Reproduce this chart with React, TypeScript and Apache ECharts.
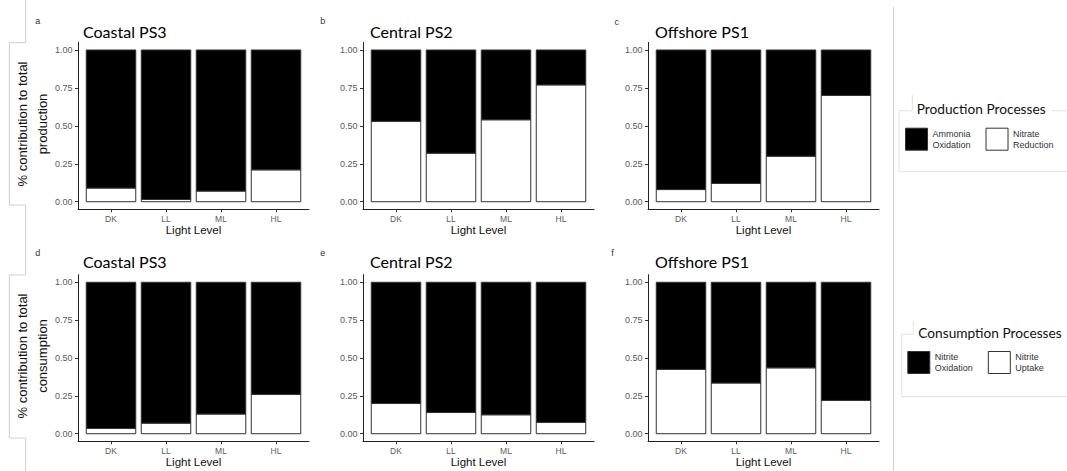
import React, { useEffect, useRef } from "react";
import * as echarts from "echarts";

// ---- data ----
const lightLevels = ["DK", "LL", "ML", "HL"];
const yTicks = [0, 0.25, 0.5, 0.75, 1];
const panelTitles = ["Coastal PS3", "Central PS2", "Offshore PS1", "Coastal PS3", "Central PS2", "Offshore PS1"];
const panelLetters = ["a", "b", "c", "d", "e", "f"];
const productionNames = ["Ammonia Oxidation", "Nitrate Reduction"];
const consumptionNames = ["Nitrite Oxidation", "Nitrite Uptake"];

// production: white = Nitrate Reduction, black = Ammonia Oxidation
const coastalNitrateReduction = [0.09, 0.015, 0.07, 0.21];
const coastalAmmoniaOxidation = [0.91, 0.985, 0.93, 0.79];
const centralNitrateReduction = [0.53, 0.32, 0.54, 0.77];
const centralAmmoniaOxidation = [0.47, 0.68, 0.46, 0.23];
const offshoreNitrateReduction = [0.08, 0.12, 0.3, 0.7];
const offshoreAmmoniaOxidation = [0.92, 0.88, 0.7, 0.3];
// consumption: white = Nitrite Uptake, black = Nitrite Oxidation
const coastalNitriteUptake = [0.035, 0.07, 0.13, 0.26];
const coastalNitriteOxidation = [0.965, 0.93, 0.87, 0.74];
const centralNitriteUptake = [0.2, 0.14, 0.125, 0.075];
const centralNitriteOxidation = [0.8, 0.86, 0.875, 0.925];
const offshoreNitriteUptake = [0.425, 0.335, 0.435, 0.22];
const offshoreNitriteOxidation = [0.575, 0.665, 0.565, 0.78];

const whiteSeries = [
  coastalNitrateReduction, centralNitrateReduction, offshoreNitrateReduction,
  coastalNitriteUptake, centralNitriteUptake, offshoreNitriteUptake,
];
const blackSeries = [
  coastalAmmoniaOxidation, centralAmmoniaOxidation, offshoreAmmoniaOxidation,
  coastalNitriteOxidation, centralNitriteOxidation, offshoreNitriteOxidation,
];

const SANS = "Liberation Sans";
const TITLE_FONT = "Lato";
const BAR_WIDTH = 0.9;

function stackedRect(fill: string) {
  return (params: any, api: any) => {
    const x = api.value(0);
    const lo = api.value(1);
    const hi = api.value(2);
    const p0 = api.coord([x - BAR_WIDTH / 2, hi]);
    const p1 = api.coord([x + BAR_WIDTH / 2, lo]);
    return {
      type: "rect",
      shape: { x: p0[0], y: p0[1], width: p1[0] - p0[0], height: p1[1] - p0[1] },
      style: { fill, stroke: "#333", lineWidth: 1 },
    };
  };
}

export default function App() {
  const ref = useRef<HTMLDivElement>(null);
  useEffect(() => {
    if (!ref.current) return;
    const chart = echarts.init(ref.current, null, { renderer: "svg" });

    const lefts = [78, 363, 648];
    const tops = [42.4, 274.7];
    const heights = [166.9, 166.6];
    const grids: any[] = [];
    const xAxes: any[] = [];
    const yAxes: any[] = [];
    const series: any[] = [];
    const graphics: any[] = [];

    const titleY = [31, 261.5];
    const letterPos = [
      [37.7, 20.7], [322.7, 20.7], [616.7, 21.5],
      [37.7, 253], [322.7, 253], [612.5, 253],
    ];
    const titleLeft = [83, 370, 655];

    for (let p = 0; p < 6; p++) {
      const row = p < 3 ? 0 : 1;
      const col = p % 3;
      grids.push({ left: lefts[col], top: tops[row], width: 231, height: heights[row], containLabel: false });
      xAxes.push({
        gridIndex: p,
        type: "value",
        min: 0.4,
        max: 4.6,
        axisLine: { show: true, onZero: false, lineStyle: { color: "#222", width: 1 } },
        axisTick: { show: true, length: 3, customValues: [1, 2, 3, 4], lineStyle: { color: "#333" } },
        axisLabel: {
          customValues: [1, 2, 3, 4],
          formatter: (v: number) => lightLevels[Math.round(v) - 1] ?? "",
          fontSize: 8.5,
          color: "#5a5a5a",
          margin: 5,
          fontFamily: SANS,
        },
        splitLine: { show: false },
        name: "Light Level",
        nameLocation: "middle",
        nameGap: 15,
        nameTextStyle: { fontSize: 11.5, color: "#111", fontFamily: SANS },
      });
      yAxes.push({
        gridIndex: p,
        type: "value",
        min: -0.05,
        max: 1.05,
        axisLine: { show: true, onZero: false, lineStyle: { color: "#222", width: 1 } },
        axisTick: { show: true, length: 3, customValues: yTicks, lineStyle: { color: "#333" } },
        axisLabel: {
          customValues: yTicks,
          formatter: (v: number) => v.toFixed(2),
          fontSize: 9,
          color: "#5a5a5a",
          margin: 5.5,
          fontFamily: SANS,
        },
        splitLine: { show: false },
      });
      const names = row === 0 ? productionNames : consumptionNames;
      const w = whiteSeries[p];
      const b = blackSeries[p];
      series.push({
        type: "custom",
        name: names[1],
        xAxisIndex: p,
        yAxisIndex: p,
        encode: { x: 0, y: [1, 2] },
        data: w.map((v, i) => [i + 1, 0, v]),
        itemStyle: { color: "#fff", borderColor: "#333", borderWidth: 1 },
        renderItem: stackedRect("#fff"),
      });
      series.push({
        type: "custom",
        name: names[0],
        xAxisIndex: p,
        yAxisIndex: p,
        encode: { x: 0, y: [1, 2] },
        data: b.map((v, i) => [i + 1, w[i], w[i] + v]),
        itemStyle: { color: "#000", borderColor: "#333", borderWidth: 1 },
        renderItem: stackedRect("#000"),
      });
      graphics.push({
        type: "text",
        x: titleLeft[col],
        y: titleY[row],
        style: { text: panelTitles[p], fontSize: 16, fontFamily: TITLE_FONT, fill: "#000", align: "left", verticalAlign: "middle" },
      });
      graphics.push({
        type: "text",
        x: letterPos[p][0],
        y: letterPos[p][1],
        style: { text: panelLetters[p], fontSize: 9, fontFamily: SANS, fill: "#333", align: "center", verticalAlign: "middle" },
      });
    }

    // y-axis titles
    graphics.push({
      type: "text", x: 32, y: 124, rotation: Math.PI / 2,
      style: { text: "% contribution to total\nproduction", fontSize: 13, lineHeight: 20, fontFamily: SANS, fill: "#111", align: "center", verticalAlign: "middle" },
    });
    graphics.push({
      type: "text", x: 32, y: 356, rotation: Math.PI / 2,
      style: { text: "% contribution to total\nconsumption", fontSize: 13, lineHeight: 20, fontFamily: SANS, fill: "#111", align: "center", verticalAlign: "middle" },
    });

    // frame lines
    const frameColor = "#cfcfcf";
    graphics.push({
      type: "polyline",
      shape: { points: [[25.7, 0], [25.7, 42.7], [9.3, 42.7], [9.3, 205], [25.7, 205], [25.7, 275], [9.3, 275], [9.3, 438], [25.7, 438], [25.7, 471]] },
      style: { stroke: frameColor, lineWidth: 1, fill: null },
    });
    graphics.push({ type: "line", shape: { x1: 893.5, y1: 7, x2: 893.5, y2: 471 }, style: { stroke: frameColor, lineWidth: 1 } });

    const boxColor = "#e2e2e2";
    graphics.push({ type: "polyline", shape: { points: [[912.3, 95], [912.3, 110.7], [899, 110.7], [899, 171.7], [1067, 171.7]] }, style: { stroke: boxColor, lineWidth: 1, fill: null } });
    graphics.push({ type: "line", shape: { x1: 1052, y1: 110.7, x2: 1067, y2: 110.7 }, style: { stroke: boxColor, lineWidth: 1 } });
    graphics.push({ type: "polyline", shape: { points: [[913.3, 320.7], [913.3, 334.3], [901.7, 334.3], [901.7, 396.7], [1067, 396.7]] }, style: { stroke: boxColor, lineWidth: 1, fill: null } });

    graphics.push({
      type: "text", x: 916.7, y: 108,
      style: { text: "Production Processes", fontSize: 13.7, fontFamily: TITLE_FONT, fill: "#111", align: "left", verticalAlign: "middle" },
    });
    graphics.push({
      type: "text", x: 918.3, y: 332.3,
      style: { text: "Consumption Processes", fontSize: 13.7, fontFamily: TITLE_FONT, fill: "#111", align: "left", verticalAlign: "middle" },
    });

    const legendCommon = {
      orient: "horizontal",
      itemWidth: 22,
      itemHeight: 22,
      itemGap: 15,
      padding: 0,
      icon: "rect",
      selectedMode: false,
      formatter: (name: string) => name.replace(" ", "\n"),
      textStyle: { fontSize: 9, lineHeight: 11, color: "#333", fontFamily: SANS },
    };

    chart.setOption({
      animation: false,
      backgroundColor: "#fff",
      grid: grids,
      xAxis: xAxes,
      yAxis: yAxes,
      series,
      legend: [
        {
          ...legendCommon,
          left: 905,
          top: 127.7,
          data: [
            { name: productionNames[0], itemStyle: { color: "#000", borderColor: "#333", borderWidth: 1 } },
            { name: productionNames[1], itemStyle: { color: "#fff", borderColor: "#333", borderWidth: 1 } },
          ],
        },
        {
          ...legendCommon,
          left: 907.3,
          top: 351,
          data: [
            { name: consumptionNames[0], itemStyle: { color: "#000", borderColor: "#333", borderWidth: 1 } },
            { name: consumptionNames[1], itemStyle: { color: "#fff", borderColor: "#333", borderWidth: 1 } },
          ],
        },
      ],
      graphic: graphics,
    });
    return () => chart.dispose();
  }, []);
  return (
    <div
      ref={ref}
      style={{ position: "fixed", left: 0, top: 0, width: 1067, height: 471, background: "#fff" }}
    />
  );
}
